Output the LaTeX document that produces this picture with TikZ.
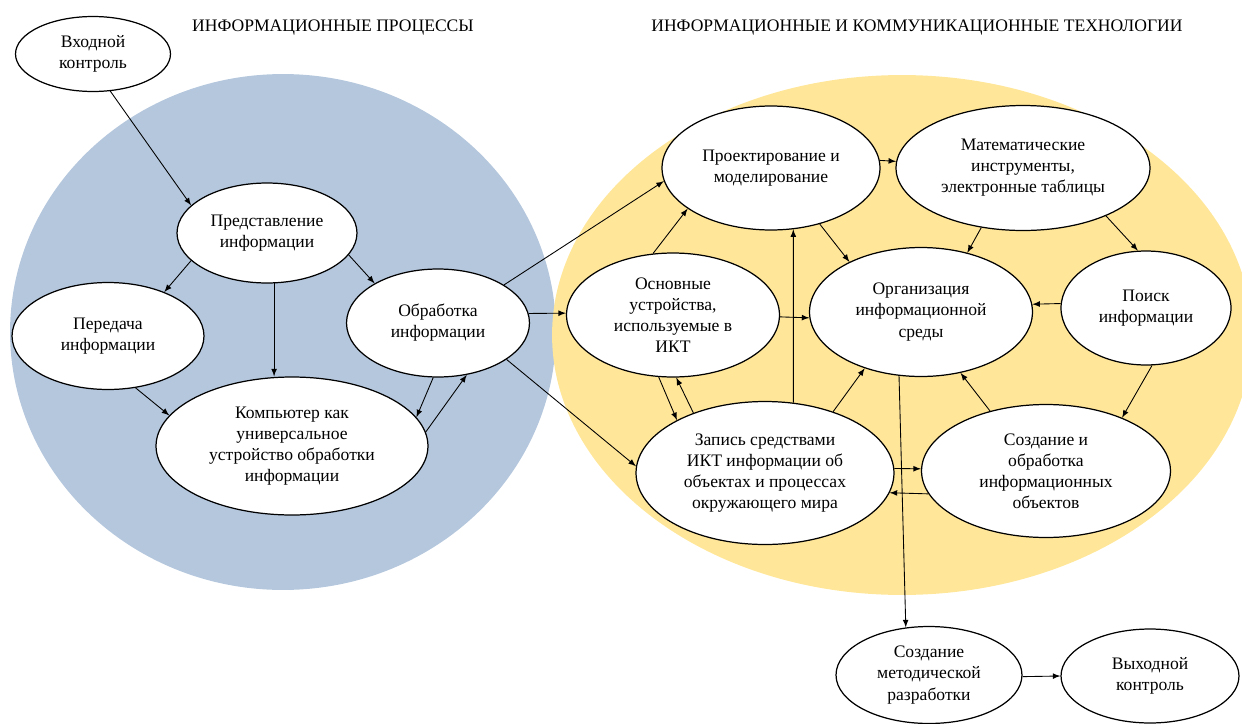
\documentclass[tikz,border=0pt]{standalone}
\usepackage{fontspec}
\setmainfont{Liberation Serif}
\usetikzlibrary{shapes,arrows,positioning}
\definecolor{blueback}{RGB}{180,199,221}
\definecolor{yellowback}{RGB}{255,230,153}

\begin{document}
\begin{tikzpicture}[x=0.02cm, y=-0.02cm,
  blk/.style={draw, ellipse, fill=white, align=center, inner sep=1pt, line width=0.7pt, font=\fontsize{10}{12}\selectfont},
  arr/.style={-latex, line width=0.5pt}]
\useasboundingbox (0,0) rectangle (1242,724);

% фон
\begin{scope}
\clip (0,0) rectangle (1242,724);
\fill[blueback] (283,332) ellipse [x radius=5.46cm, y radius=5.16cm];
\fill[yellowback] (902,335) ellipse [x radius=7cm, y radius=5.2cm];
\end{scope}

% заголовки
\node[font=\fontsize{10}{12}\selectfont] (tit1) at (333,28) {ИНФОРМАЦИОННЫЕ ПРОЦЕССЫ};
\node[font=\fontsize{10}{12}\selectfont] (tit2) at (917,28) {ИНФОРМАЦИОННЫЕ И КОММУНИКАЦИОННЫЕ ТЕХНОЛОГИИ};

% информационные процессы
\node[blk, minimum width=3.1cm, minimum height=1.5cm] (vhod) at (93,54) {Входной\\контроль};
\node[blk, minimum width=3.6cm, minimum height=2cm] (predst) at (267,233) {Представление\\информации};
\node[blk, minimum width=3.84cm, minimum height=2.14cm] (pered) at (108,336) {Передача\\информации};
\node[blk, minimum width=3.66cm, minimum height=2.16cm] (obrab) at (438,323) {Обработка\\информации};
\node[blk, minimum width=5.44cm, minimum height=2.76cm] (komp) at (292,446) {Компьютер как\\универсальное\\устройство обработки\\информации};

% ИКТ
\node[blk, minimum width=4.36cm, minimum height=2.48cm] (proekt) at (771,168) {Проектирование и\\моделирование};
\node[blk, minimum width=5.08cm, minimum height=2.5cm] (matem) at (1023,168) {Математические\\инструменты,\\электронные таблицы};
\node[blk, minimum width=4.26cm, minimum height=2.48cm] (osnov) at (673,315) {Основные\\устройства,\\используемые в\\ИКТ};
\node[blk, minimum width=4.46cm, minimum height=2.58cm] (organiz) at (921,312) {Организация\\информационной\\среды};
\node[blk, minimum width=3.4cm, minimum height=2.28cm] (poisk) at (1146,308) {Поиск\\информации};
\node[blk, minimum width=5.16cm, minimum height=2.86cm] (zapis) at (765,473) {Запись средствами\\ИКТ информации об\\объектах и процессах\\окружающего мира};
\node[blk, minimum width=4.98cm, minimum height=2.66cm] (sozd) at (1046,471) {Создание и\\обработка\\информационных\\объектов};

% итог
\node[blk, minimum width=3.72cm, minimum height=1.94cm] (metod) at (929,675) {Создание\\методической\\разработки};
\node[blk, minimum width=3.56cm, minimum height=1.88cm] (vyhod) at (1150,676) {Выходной\\контроль};

% связи
\draw[arr] (vhod.-65) -- (predst.160);
\draw[arr] (predst.-160) -- (pered.38);
\draw[arr] (predst.-15) -- (obrab.148);
\draw[arr] (predst.-82) -- (predst.-82 |- komp.north);
\draw[arr] (pered.-62) -- (komp.166);
\draw[arr] (obrab.-95) -- (komp.13);
\draw[arr] (komp.6) -- (obrab.-61);
\draw[arr] (obrab.30) -- (proekt.-173);
\draw[arr] (obrab.6) -- (osnov.179);
\draw[arr] (obrab.-28) -- (zapis.177);
\draw[arr] (osnov.108) -- (proekt.-154);
\draw[arr] (proekt.4) -- (matem.177);
\draw[arr] (proekt.-49) -- (organiz.145);
\draw[arr] (matem.-125) -- (organiz.52);
\draw[arr] (matem.-30) -- (poisk.98);
\draw[arr] (poisk.177) -- (organiz.4);
\draw[arr] (osnov.-1) -- (organiz.-177);
\draw[arr] (zapis.68) -- (proekt.-70);
\draw[arr] (osnov.-103) -- (zapis.149);
\draw[arr] (zapis.140) -- (osnov.-87);
\draw[arr] (zapis.42) -- (organiz.-135);
\draw[arr] (sozd.133) -- (organiz.-57);
\draw[arr] (poisk.-84) -- (sozd.35);
\draw[arr] (zapis.2) -- (sozd.179);
\draw[arr] (sozd.-169) -- (zapis.-9);
\draw[arr] (organiz.-109) -- (metod.116);
\draw[arr] (metod.-1) -- (vyhod.180);
\end{tikzpicture}
\end{document}
